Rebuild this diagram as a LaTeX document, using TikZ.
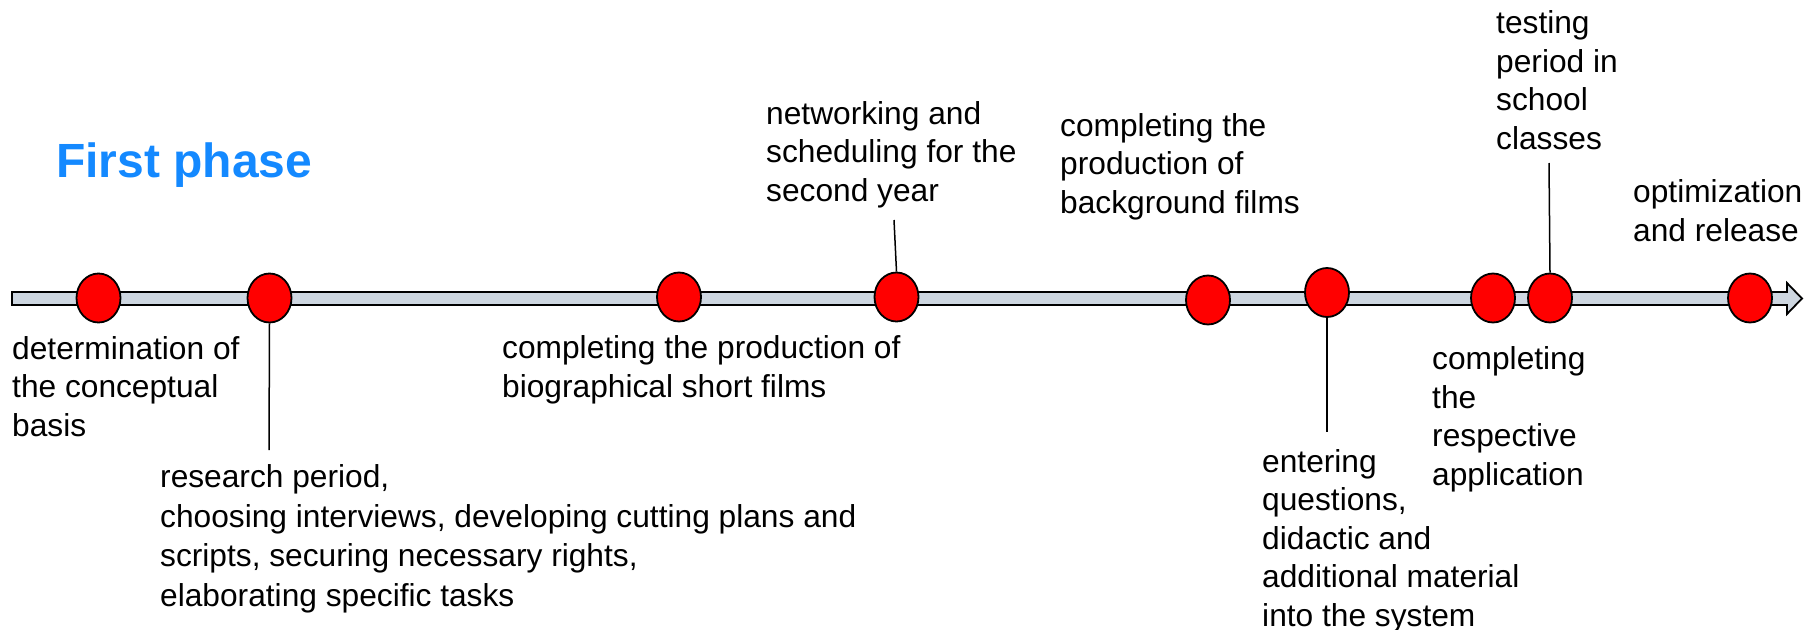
\documentclass[tikz,border=0pt]{standalone}
\usepackage{fontspec}
\setmainfont{Liberation Sans}
\usetikzlibrary{shapes.geometric}
\definecolor{barfill}{RGB}{205,214,224}
\definecolor{phaseblue}{RGB}{20,137,255}
\tikzset{
  milestone/.style={ellipse, draw=black, line width=1.8pt, fill=red, minimum width=44pt, minimum height=49pt, inner sep=0pt},
  event/.style={anchor=base west, align=left, inner sep=0pt, font=\fontsize{31.7}{38.5}\selectfont},
  leader/.style={line width=1.5pt}
}
\begin{document}
\begin{tikzpicture}[x=1pt,y=-1pt]
  \useasboundingbox (0,0) rectangle (1820,629);
  \filldraw[fill=barfill, line width=1.8pt] (12,292) -- (1787,292) -- (1787,283) -- (1802,298.5) -- (1787,314) -- (1787,305) -- (12,305) -- cycle;
  \node[milestone] (m1) at (98.5,298) {};
  \node[milestone] (m2) at (269.5,298) {};
  \node[milestone] (m3) at (679,297) {};
  \node[milestone] (m4) at (896.5,297) {};
  \node[milestone] (m5) at (1208,300) {};
  \node[milestone] (m6) at (1327,292.5) {};
  \node[milestone] (m7) at (1493,298) {};
  \node[milestone] (m8) at (1550,298) {};
  \node[milestone] (m9) at (1750,298) {};
  \node[anchor=base west, inner sep=0pt, text=phaseblue, font=\bfseries\fontsize{48}{58}\selectfont] (phase) at (56,177) {First phase};
  \node[event] (t1) at (12,436) {determination of\\the conceptual\\basis};
  \node[event, font=\fontsize{31.7}{39.5}\selectfont] (t2) at (160,606) {research period,\\choosing interviews, developing cutting plans and\\scripts, securing necessary rights,\\elaborating specific tasks};
  \node[event] (t3) at (502,397) {completing the production of\\biographical short films};
  \node[event] (t4) at (766,201) {networking and\\scheduling for the\\second year};
  \node[event] (t5) at (1060,213) {completing the\\production of\\background films};
  \node[event] (t6) at (1262,626) {entering\\questions,\\didactic and\\additional material\\into the system};
  \node[event] (t7) at (1432,485) {completing\\the\\respective\\application};
  \node[event] (t8) at (1496,149) {testing\\period in\\school\\classes};
  \node[event] (t9) at (1633,241) {optimization\\and release};
  \coordinate (e2) at (269,450);
  \coordinate (e4) at (894,220);
  \coordinate (e6) at (1327,432);
  \coordinate (e8) at (1549,163);
  \draw[leader] (m2.south) -- (e2);
  \draw[leader] (e4) -- (m4.north);
  \draw[leader] (m6.south) -- (e6);
  \draw[leader] (e8) -- (m8.north);
\end{tikzpicture}
\end{document}
